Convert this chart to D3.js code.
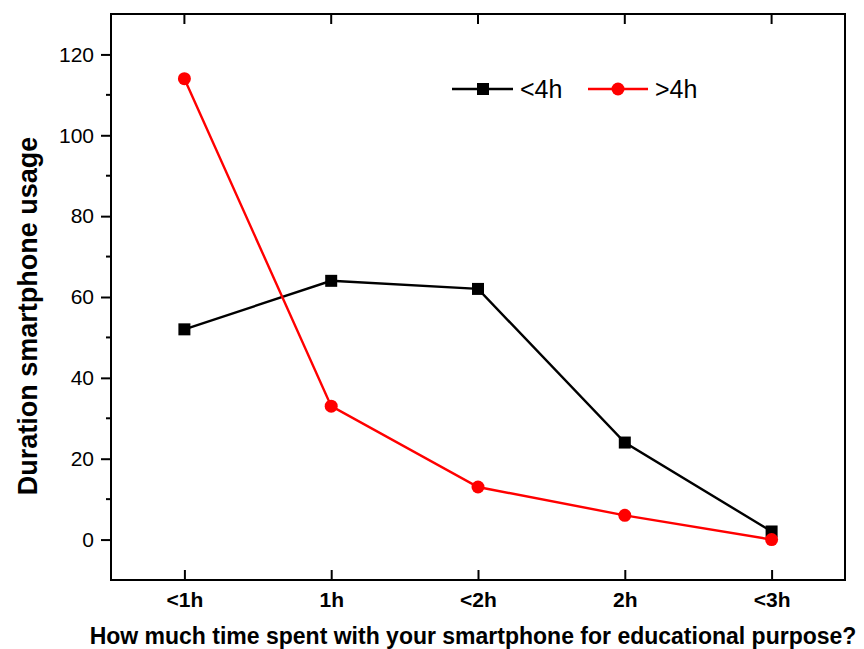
<!DOCTYPE html>
<html>
<head>
<meta charset="utf-8">
<script src="https://cdn.jsdelivr.net/npm/d3@7"></script>
<style>
  body { margin: 0; background: #fff; }
  svg { display: block; }
</style>
</head>
<body>
<svg id="chart" width="864" height="649"></svg>
<script>
// data
const categories = ["<1h", "1h", "<2h", "2h", "<3h"]
const under4h = [52, 64, 62, 24, 2]
const over4h = [114, 33, 13, 6, 0]
const yTicks = [0, 20, 40, 60, 80, 100, 120]
const yMinor = [10, 30, 50, 70, 90, 110]

const width = 864
const height = 649
const margin = { top: 14, right: 19, bottom: 69, left: 111 }

const svg = d3.select("#chart")
const font = "Liberation Sans, Arial, sans-serif"

const x = d3.scalePoint()
  .domain(categories)
  .range([margin.left, width - margin.right])
  .padding(0.5)

const y = d3.scaleLinear()
  .domain([-10, 130])
  .range([height - margin.bottom, margin.top])

const plotL = margin.left, plotR = width - margin.right
const plotT = margin.top, plotB = height - margin.bottom

// frame
svg.append("rect")
  .attr("x", plotL).attr("y", plotT)
  .attr("width", plotR - plotL).attr("height", plotB - plotT)
  .attr("fill", "none").attr("stroke", "#000").attr("stroke-width", 2)

// left axis
const yAxis = svg.append("g")
  .attr("transform", `translate(${plotL},0)`)
  .call(d3.axisLeft(y).tickValues(yTicks).tickSize(10).tickPadding(7))
yAxis.select(".domain").remove()
yAxis.selectAll("line").attr("stroke-width", 2)
yAxis.selectAll("text")
  .attr("font-family", font).attr("font-size", 21).attr("fill", "#000")

svg.append("g").selectAll("line")
  .data(yMinor)
  .join("line")
  .attr("x1", plotL - 5).attr("x2", plotL)
  .attr("y1", d => y(d)).attr("y2", d => y(d))
  .attr("stroke", "#000").attr("stroke-width", 2)

// bottom axis, ticks pointing in
const xAxis = svg.append("g")
  .attr("transform", `translate(0,${plotB})`)
  .call(d3.axisBottom(x).tickSize(-10).tickPadding(12))
xAxis.select(".domain").remove()
xAxis.selectAll("line").attr("stroke-width", 2)
xAxis.selectAll("text")
  .attr("font-family", font).attr("font-size", 21).attr("font-weight", "bold").attr("fill", "#000")

// top ticks
svg.append("g").selectAll("line")
  .data(categories)
  .join("line")
  .attr("x1", d => x(d)).attr("x2", d => x(d))
  .attr("y1", plotT).attr("y2", plotT + 10)
  .attr("stroke", "#000").attr("stroke-width", 2)

// axis titles
svg.append("text")
  .attr("x", 473).attr("y", 644)
  .attr("text-anchor", "middle")
  .attr("font-family", font).attr("font-size", 23).attr("font-weight", "bold")
  .text("How much time spent with your smartphone for educational purpose?")

svg.append("text")
  .attr("transform", "translate(37,316) rotate(-90)")
  .attr("text-anchor", "middle")
  .attr("font-family", font).attr("font-size", 27).attr("font-weight", "bold")
  .text("Duration smartphone usage")

// lines
const line = d3.line()
  .x((d, i) => x(categories[i]))
  .y(d => y(d))

svg.append("path")
  .datum(under4h)
  .attr("fill", "none").attr("stroke", "#000").attr("stroke-width", 2.4)
  .attr("d", line)

svg.append("path")
  .datum(over4h)
  .attr("fill", "none").attr("stroke", "#ff0000").attr("stroke-width", 2.4)
  .attr("d", line)

svg.append("g").selectAll("rect")
  .data(under4h)
  .join("rect")
  .attr("x", (d, i) => x(categories[i]) - 6)
  .attr("y", d => y(d) - 6)
  .attr("width", 12).attr("height", 12)
  .attr("fill", "#000")

svg.append("g").selectAll("circle")
  .data(over4h)
  .join("circle")
  .attr("cx", (d, i) => x(categories[i]))
  .attr("cy", d => y(d))
  .attr("r", 6.5)
  .attr("fill", "#ff0000")

// legend
const leg = svg.append("g").attr("transform", "translate(452,89)")
leg.append("line").attr("x1", 0).attr("x2", 61).attr("stroke", "#000").attr("stroke-width", 2.4)
leg.append("rect").attr("x", 25).attr("y", -6).attr("width", 12).attr("height", 12).attr("fill", "#000")
leg.append("text").attr("x", 68).attr("y", 9)
  .attr("font-family", font).attr("font-size", 25).text("<4h")
leg.append("line").attr("x1", 136).attr("x2", 196).attr("stroke", "#ff0000").attr("stroke-width", 2.4)
leg.append("circle").attr("cx", 166).attr("r", 6.5).attr("fill", "#ff0000")
leg.append("text").attr("x", 203).attr("y", 9)
  .attr("font-family", font).attr("font-size", 25).text(">4h")
</script>
</body>
</html>
